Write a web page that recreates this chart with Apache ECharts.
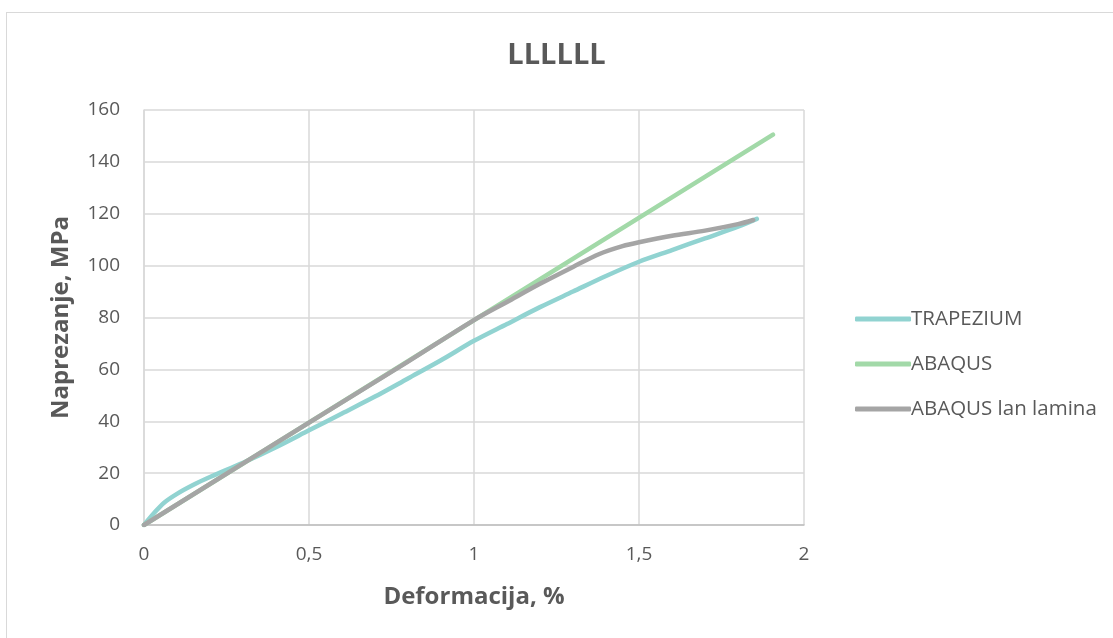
<!DOCTYPE html>
<html>
<head>
<meta charset="utf-8">
<script src="https://cdn.jsdelivr.net/npm/echarts@6/dist/echarts.min.js"></script>
<style>
  html, body { margin: 0; padding: 0; background: #fff; overflow: hidden; }
  #frame { position: absolute; left: 6px; top: 12px; width: 1300px; height: 800px; border: 1px solid #d9d9d9; }
  #chart { position: absolute; left: 0; top: 0; width: 1113px; height: 638px; }
</style>
</head>
<body>
<div id="frame"></div>
<div id="chart"></div>
<script>
// deformation (%) / stress (MPa) pairs
let series_names = ["TRAPEZIUM", "ABAQUS", "ABAQUS lan lamina"];

let trapezium_x = [0, 0.03, 0.06, 0.1, 0.15, 0.2, 0.3, 0.4, 0.5, 0.6, 0.7, 0.8, 0.9, 1.0, 1.1, 1.2, 1.3, 1.4, 1.5, 1.6, 1.7, 1.8, 1.857];
let trapezium_y = [0, 4.5, 8.5, 12, 15.5, 18.5, 24, 30, 36.5, 43, 49.5, 56.5, 63.5, 71, 77.5, 84, 90, 96, 101.5, 106, 110.5, 115, 118];

let abaqus_x = [0, 1.906];
let abaqus_y = [0, 150.5];

let lamina_x = [0, 0.5, 0.8, 1.0, 1.1, 1.2, 1.3, 1.38, 1.45, 1.5, 1.6, 1.7, 1.8, 1.846];
let lamina_y = [0, 39.5, 63, 79, 86, 93, 99.5, 104.5, 107.5, 109, 111.5, 113.5, 116, 117.6];

let y_ticks = [0, 20, 40, 60, 80, 100, 120, 140, 160];
let x_ticks = [0, 0.5, 1, 1.5, 2];

let colors = ["#91d3d1", "#a2d9a8", "#a5a5a5"];

function zip(xs, ys) {
    return xs.map(function (x, i) { return [x, ys[i]]; });
}

let font = "Open Sans, Liberation Sans, sans-serif";

let chart = echarts.init(document.getElementById("chart"));

function make_series(name, xs, ys, color, smooth) {
    return {
        name: name,
        type: "line",
        data: zip(xs, ys),
        smooth: smooth,
        showSymbol: false,
        symbol: "none",
        lineStyle: { color: color, width: 4.5, cap: "round", join: "round" },
        itemStyle: { color: color }
    };
}

chart.setOption({
    animation: false,
    color: colors,
    title: {
        text: "LLLLLL",
        left: "center",
        top: 36,
        textStyle: { fontFamily: font, fontSize: 29, fontWeight: "bold", color: "#595959" }
    },
    legend: {
        orient: "vertical",
        left: 850,
        top: 302,
        itemWidth: 56,
        itemHeight: 5,
        itemGap: 21,
        icon: "roundRect",
        textStyle: { fontFamily: font, fontSize: 20.5, color: "#595959", lineHeight: 24, padding: [0, 0, 0, -5] },
        data: series_names
    },
    grid: { left: 144, right: 309, top: 110, bottom: 113 },
    xAxis: {
        type: "value",
        min: x_ticks[0],
        max: x_ticks[x_ticks.length - 1],
        interval: 0.5,
        name: "Deformacija, %",
        nameLocation: "middle",
        nameGap: 60,
        nameTextStyle: { fontFamily: font, fontSize: 24, fontWeight: "bold", color: "#595959" },
        axisLine: { show: true, lineStyle: { color: "#bfbfbf", width: 1.5 } },
        axisTick: { show: false },
        axisLabel: {
            margin: 20,
            fontFamily: font, fontSize: 19, color: "#595959",
            formatter: function (v) { return String(v).replace(".", ","); }
        },
        splitLine: { show: true, lineStyle: { color: "#d9d9d9", width: 1.5 } }
    },
    yAxis: {
        type: "value",
        min: y_ticks[0],
        max: y_ticks[y_ticks.length - 1],
        interval: 20,
        name: "Naprezanje, MPa",
        nameLocation: "middle",
        nameGap: 71,
        nameTextStyle: { fontFamily: font, fontSize: 24, fontWeight: "bold", color: "#595959" },
        axisLine: { show: true, lineStyle: { color: "#d9d9d9", width: 1.5 } },
        axisTick: { show: false },
        axisLabel: { margin: 24, fontFamily: font, fontSize: 19, color: "#595959" },
        splitLine: { show: true, lineStyle: { color: "#d9d9d9", width: 1.5 } }
    },
    series: [
        make_series(series_names[0], trapezium_x, trapezium_y, colors[0], 0.3),
        make_series(series_names[1], abaqus_x, abaqus_y, colors[1], false),
        make_series(series_names[2], lamina_x, lamina_y, colors[2], 0.3)
    ]
});
</script>
</body>
</html>
